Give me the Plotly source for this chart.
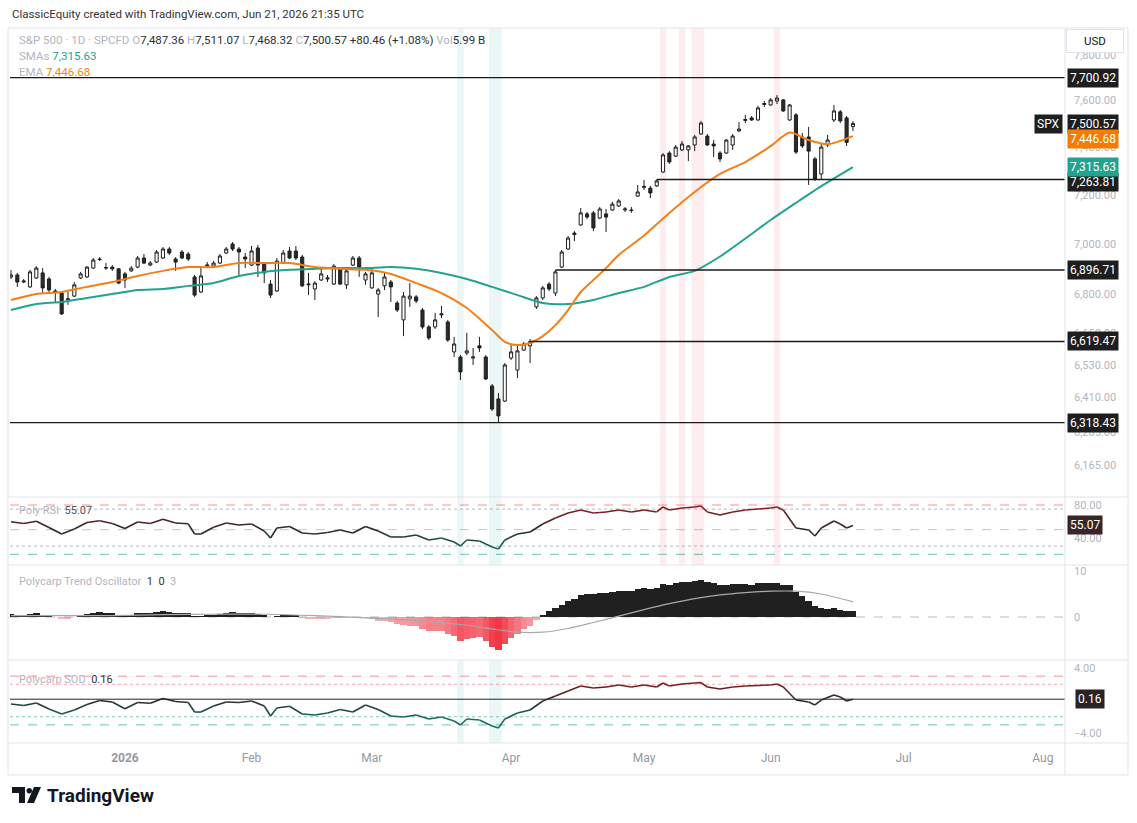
import math
import plotly.graph_objects as go

W, H = 1137, 823
FONT = "Roboto"

# ---------------- data ----------------
bar_idx = list(range(134))

opens = [6869, 6877, 6849, 6830, 6865, 6885, 6861, 6814, 6806, 6779,
         6794, 6865, 6869, 6904, 6940, 6904, 6908, 6901, 6881, 6893,
         6908, 6944, 6916, 6928, 6944, 6980, 6940, 6968, 6960, 6869,
         6810, 6912, 6912, 6924, 6964, 7000, 6980, 6948, 6916, 6984,
         6924, 6841, 6814, 6924, 6972, 6972, 6948, 6838, 6822, 6857,
         6861, 6841, 6901, 6838, 6916, 6944, 6857, 6826, 6802, 6834,
         6849, 6767, 6702, 6783, 6791, 6740, 6675, 6675, 6721, 6694,
         6580, 6561, 6576, 6557, 6603, 6561, 6453, 6405, 6397, 6557,
         6512, 6587, 6603, 6752, 6787, 6841, 6806, 6908, 6980, 7038,
         7077, 7122, 7126, 7105, 7122, 7138, 7154, 7138, 7138, 7195,
         7231, 7228, 7237, 7295, 7375, 7362, 7388, 7388, 7409, 7456,
         7447, 7413, 7375, 7375, 7409, 7469, 7514, 7525, 7516, 7583,
         7581, 7598, 7603, 7516, 7538, 7443, 7443, 7350, 7287, 7409,
         7516, 7551, 7525, 7487.36]
highs = [6897, 6885, 6861, 6897, 6912, 6904, 6869, 6822, 6814, 6810,
         6849, 6889, 6912, 6944, 6948, 6924, 6916, 6904, 6889, 6912,
         6952, 6960, 6932, 6976, 6988, 6988, 6948, 6976, 6968, 6877,
         6908, 6928, 6932, 6960, 6988, 7008, 6988, 6964, 6992, 6996,
         6928, 6857, 6944, 6976, 6988, 6992, 6956, 6885, 6853, 6908,
         6877, 6920, 6908, 6897, 6952, 6952, 6889, 6901, 6826, 6885,
         6857, 6775, 6810, 6845, 6798, 6748, 6682, 6729, 6756, 6702,
         6637, 6568, 6652, 6595, 6637, 6568, 6460, 6427, 6538, 6606,
         6606, 6618, 6629, 6794, 6834, 6849, 6896.71, 6976, 7032, 7052,
         7146, 7130, 7134, 7150, 7142, 7171, 7183, 7150, 7150, 7241,
         7262, 7237, 7263.81, 7375, 7383, 7409, 7426, 7409, 7452, 7512,
         7456, 7430, 7383, 7434, 7456, 7507, 7538, 7533, 7577, 7598,
         7611, 7624, 7607, 7585, 7546, 7460, 7486, 7358, 7413, 7452,
         7581, 7559, 7533, 7511.07]
lows = [6861, 6830, 6845, 6826, 6861, 6806, 6806, 6767, 6721, 6760,
        6791, 6861, 6865, 6901, 6932, 6897, 6893, 6841, 6826, 6889,
        6904, 6920, 6912, 6924, 6940, 6956, 6893, 6940, 6932, 6791,
        6806, 6904, 6908, 6920, 6960, 6972, 6877, 6904, 6912, 6869,
        6845, 6787, 6810, 6920, 6940, 6936, 6830, 6798, 6779, 6853,
        6849, 6838, 6838, 6822, 6912, 6869, 6838, 6822, 6713, 6818,
        6771, 6732, 6640, 6752, 6767, 6667, 6625, 6667, 6709, 6618,
        6561, 6475, 6568, 6531, 6580, 6475, 6361, 6318.43, 6394, 6550,
        6482, 6584, 6538, 6744, 6779, 6814, 6794, 6904, 6976, 7012,
        7073, 7101, 7052, 7101, 7048, 7134, 7150, 7130, 7126, 7191,
        7220, 7187, 7233, 7291, 7329, 7358, 7383, 7341, 7383, 7452,
        7405, 7358, 7337, 7371, 7388, 7464, 7503, 7512, 7512, 7572,
        7577, 7585, 7551, 7512, 7371, 7396, 7241, 7258, 7266, 7400,
        7507, 7503, 7405, 7468.32]
closes = [6877, 6849, 6853, 6889, 6904, 6826, 6818, 6810, 6725, 6783,
          6838, 6881, 6908, 6936, 6938, 6906, 6901, 6845, 6857, 6904,
          6944, 6924, 6924, 6968, 6980, 6964, 6928, 6944, 6940, 6798,
          6873, 6916, 6924, 6952, 6980, 6980, 6968, 6940, 6972, 6916,
          6885, 6798, 6932, 6964, 6944, 6944, 6834, 6841, 6845, 6881,
          6865, 6912, 6841, 6893, 6944, 6908, 6881, 6885, 6818, 6869,
          6830, 6740, 6794, 6794, 6775, 6675, 6633, 6702, 6725, 6625,
          6610, 6505, 6584, 6561, 6595, 6479, 6368, 6343, 6531, 6580,
          6584, 6610, 6619.47, 6787, 6826, 6822, 6889, 6968, 7024, 7044,
          7126, 7109, 7065, 7142, 7109, 7162, 7175, 7142, 7136, 7212,
          7235, 7208, 7258, 7367, 7337, 7400, 7413, 7405, 7443, 7503,
          7409, 7405, 7350, 7430, 7447, 7477, 7518, 7516, 7568, 7587,
          7603, 7611, 7555, 7581, 7379, 7405, 7383, 7266, 7400, 7430,
          7555, 7512, 7420.11, 7500.57]

ema_bars = [0, 4, 8, 12, 16, 20, 24, 28, 32, 36, 40, 44, 48, 52, 56, 60, 64, 68, 72, 76,
            78, 80, 82, 84, 86, 88, 90, 92, 94, 96, 100, 104, 108, 112, 116, 120, 123, 126, 129, 133]
ema_vals = [6779, 6802, 6810, 6830, 6849, 6873, 6893, 6908, 6908, 6924, 6924, 6924, 6908, 6901,
            6897, 6881, 6845, 6806, 6748, 6663, 6618, 6606, 6614, 6640, 6682, 6740, 6810, 6857,
            6904, 6956, 7034, 7126, 7212, 7287, 7337, 7404, 7462, 7430, 7412, 7446.68]

sma_bars = [0, 4, 8, 12, 16, 20, 24, 28, 32, 36, 40, 44, 48, 52, 56, 60, 64, 68, 72, 76,
            80, 84, 88, 92, 96, 100, 104, 108, 112, 116, 120, 124, 128, 133]
sma_vals = [6740, 6763, 6771, 6787, 6802, 6818, 6822, 6834, 6845, 6873, 6889, 6897, 6901, 6904,
            6904, 6908, 6901, 6885, 6861, 6830, 6798, 6767, 6763, 6779, 6806, 6830, 6869, 6893,
            6950, 7022, 7097, 7167, 7236, 7315.63]

levels = [7700.92, 7263.81, 6896.71, 6619.47, 6318.43]
level_start_bar = [None, 102, 86, 82, None]

oversold_bars = [71, 76, 77]
overbought_bars = [103, 106, 108, 109, 121]

osc_bars = [0, 2, 4, 6, 8, 10, 12, 14, 16, 18, 20, 22, 24, 26, 28, 29, 30, 32, 34, 36,
            38, 40, 41, 42, 44, 46, 48, 50, 52, 54, 56, 58, 60, 62, 64, 66, 68, 70, 71, 72,
            74, 76, 77, 78, 80, 82, 84, 86, 88, 90, 92, 94, 96, 98, 100, 102, 103, 104, 106, 108,
            109, 110, 112, 114, 116, 118, 120, 121, 122, 124, 126, 127, 128, 130, 131, 132, 133]
rsi_vals = [59.7, 57.5, 60.2, 52.6, 44.7, 50.8, 58.7, 60.9, 57.5, 51.4,
            59.3, 57.5, 62.6, 58.1, 57.1, 44.7, 44.7, 52.9, 58.1, 55.7,
            56.9, 48.4, 39.8, 52.0, 53.8, 45.9, 44.7, 46.5, 49.6, 45.9,
            53.8, 48.4, 41.1, 41.1, 43.5, 37.4, 39.8, 35.0, 30.1, 37.4,
            36.2, 28.9, 26.5, 37.4, 44.7, 47.1, 56.9, 64.2, 70.3, 73.9,
            70.3, 71.5, 73.9, 71.5, 73.9, 71.5, 77.6, 73.9, 76.3, 77.6,
            78.8, 71.5, 67.8, 71.5, 73.9, 75.1, 76.3, 77.6, 73.9, 52.0,
            49.6, 42.3, 52.0, 60.5, 56.9, 52.0, 55.07]
sod_vals = [-0.43, -0.62, -0.31, -1.05, -1.66, -1.17, -0.49, 0.0, -0.18, -1.01,
            -0.25, -0.34, 0.25, -0.12, -0.25, -1.42, -1.42, -0.68, -0.18, -0.25,
            -0.06, -0.68, -1.91, -0.92, -0.71, -1.66, -1.78, -1.54, -1.11, -1.42,
            -0.55, -1.11, -1.91, -2.03, -1.78, -2.28, -2.03, -2.52, -3.02, -2.28,
            -2.40, -3.14, -3.38, -2.28, -1.54, -1.17, -0.06, 0.55, 1.17, 1.78,
            1.54, 1.66, 1.91, 1.66, 1.91, 1.66, 2.15, 1.78, 2.03, 2.15,
            2.20, 1.66, 1.42, 1.66, 1.78, 1.85, 1.91, 2.03, 1.66, 0.06,
            -0.18, -0.55, 0.06, 0.68, 0.43, -0.06, 0.16]

trend_vals = [0.6, 0.5, 0.4, 0.6, 0.8, 0.5, 0.2, -0.1, -0.5, -0.4,
              -0.1, 0.3, 0.6, 0.9, 1.0, 0.9, 0.8, 0.5, 0.4, 0.5,
              0.8, 0.9, 0.9, 1.1, 1.2, 1.1, 0.9, 0.9, 0.8, 0.2,
              0.2, 0.4, 0.5, 0.7, 0.9, 1.0, 0.9, 0.8, 0.9, 0.7,
              0.4, -0.1, 0.2, 0.4, 0.4, 0.3, -0.2, -0.4, -0.5, -0.4,
              -0.4, -0.2, -0.3, -0.3, 0.0, -0.1, -0.3, -0.4, -0.8, -0.8,
              -1.1, -1.6, -1.7, -1.9, -2.0, -2.6, -3.1, -3.0, -3.0, -3.6,
              -4.2, -5.3, -4.8, -4.6, -4.3, -5.2, -6.5, -7.1, -5.8, -4.5,
              -3.6, -2.6, -1.9, -0.6, 0.4, 1.2, 1.9, 2.7, 3.4, 4.0,
              4.7, 5.0, 4.9, 5.2, 5.2, 5.5, 5.7, 5.6, 5.6, 6.0,
              6.2, 6.1, 6.4, 7.1, 7.0, 7.4, 7.6, 7.6, 7.8, 8.1,
              7.6, 7.3, 6.9, 7.0, 7.1, 7.2, 7.2, 7.0, 7.3, 7.3,
              7.4, 7.4, 6.9, 6.9, 5.5, 4.5, 3.5, 2.4, 2.0, 1.8,
              1.9, 1.6, 1.3, 1.2]
sig_bars = [0, 8, 16, 24, 32, 40, 48, 56, 64, 72, 76, 80, 84, 88, 92, 96, 100, 104,
            108, 112, 116, 120, 124, 128, 133]
sig_vals = [0.3, 0.3, 0.3, 0.5, 0.6, 0.6, 0.3, -0.2, -0.8, -1.8, -2.6, -3.3, -3.3, -2.5,
            -1.2, 0.2, 1.6, 2.9, 4.0, 4.8, 5.3, 5.6, 5.6, 5.0, 3.3]

x_tick_bars = [18, 38, 57, 79, 100, 120, 141, 163]
x_tick_labels = ["<b>2026</b>", "Feb", "Mar", "Apr", "May", "Jun", "Jul", "Aug"]
price_ticks = [7800, 7600, 7400, 7200, 7000, 6800, 6650, 6530, 6410, 6285, 6165]
rsi_ticks = [80, 40]
trend_ticks = [10, 0]
sod_ticks = [4, -4]
rsi_levels = [80, 75, 50, 30, 20]
sod_levels = [3, 2, -2, -3]

last_close = closes[-1]
last_sma = sma_vals[-1]
last_ema = ema_vals[-1]
last_rsi = rsi_vals[-1]
last_sod = sod_vals[-1]

# ---------------- layout geometry ----------------
X_L, X_R = 10, 1065
X_MIN, X_MAX = -0.16, 166.5
P_TOP, P_BOT = 28, 497
R_TOP, R_BOT = 497, 565
T_TOP, T_BOT = 565, 660
S_TOP, S_BOT = 660, 743
AX_BOT = 775
P_MIN, P_MAX = 6054.8, 7923.0
RSI_RANGE = [6.98, 89.74]
TREND_RANGE = [-9.35, 11.3]
SOD_RANGE = [-5.23, 4.985]


def px(x):
    return x / W


def py(y):
    return 1 - y / H


def dom(top, bot):
    return [py(bot), py(top)]


def mix(c1, c2, t):
    return tuple(round(a + (b - a) * t) for a, b in zip(c1, c2))


TEAL_D = (25, 112, 96)
DARK = (42, 42, 42)
MAROON = (135, 28, 32)


def grad_color(t):
    t = max(-1.0, min(1.0, t))
    c = mix(DARK, TEAL_D, -t) if t < 0 else mix(DARK, MAROON, t)
    return "rgb(%d,%d,%d)" % c


fig = go.Figure()

# ---------------- price pane ----------------
fig.add_trace(go.Candlestick(
    x=bar_idx, open=opens, high=highs, low=lows, close=closes,
    increasing=dict(line=dict(color="#1E1E1E", width=1), fillcolor="#FFFFFF"),
    decreasing=dict(line=dict(color="#1E1E1E", width=1), fillcolor="#2B2B2B"),
    xaxis="x", yaxis="y", hoverinfo="skip", showlegend=False))

fig.add_trace(go.Scatter(x=sma_bars, y=sma_vals, mode="lines",
                         line=dict(color="#22A38F", width=2, shape="spline", smoothing=0.7),
                         xaxis="x", yaxis="y", hoverinfo="skip", showlegend=False))
fig.add_trace(go.Scatter(x=ema_bars, y=ema_vals, mode="lines",
                         line=dict(color="#F57F17", width=2, shape="spline", smoothing=0.7),
                         xaxis="x", yaxis="y", hoverinfo="skip", showlegend=False))

for lv, sb in zip(levels, level_start_bar):
    x0 = X_MIN if sb is None else sb
    fig.add_trace(go.Scatter(x=[x0, X_MAX], y=[lv, lv], mode="lines",
                             line=dict(color="#1A1A1A", width=1.4),
                             xaxis="x", yaxis="y", hoverinfo="skip", showlegend=False))


# ---------------- gradient oscillator lines ----------------
def add_grad_line(xs, vs, tfun, xa, ya, nb=16):
    buckets = {}
    for i in range(len(xs) - 1):
        t = tfun((vs[i] + vs[i + 1]) / 2)
        k = round(max(-1, min(1, t)) * nb / 2)
        buckets.setdefault(k, ([], []))
        bx, by = buckets[k]
        bx += [xs[i], xs[i + 1], None]
        by += [vs[i], vs[i + 1], None]
    for k, (bx, by) in sorted(buckets.items()):
        fig.add_trace(go.Scatter(x=bx, y=by, mode="lines",
                                 line=dict(color=grad_color(k / (nb / 2)), width=1.6),
                                 xaxis=xa, yaxis=ya, hoverinfo="skip", showlegend=False,
                                 connectgaps=False))


add_grad_line(osc_bars, rsi_vals, lambda v: (v - 50) / 25.0, "x2", "y2")
add_grad_line(osc_bars, sod_vals, lambda v: v / 2.4, "x4", "y4")

# ---------------- trend oscillator ----------------
trend_colors = []
for v in trend_vals:
    if v >= 0:
        trend_colors.append("#202020")
    else:
        a = 0.35 + 0.65 * min(1.0, -v / 7.0)
        trend_colors.append("rgba(242,54,69,%.2f)" % a)
fig.add_trace(go.Bar(x=bar_idx, y=trend_vals, marker=dict(color=trend_colors, line=dict(width=0)),
                     width=1.0, xaxis="x3", yaxis="y3", hoverinfo="skip", showlegend=False))
fig.add_trace(go.Scatter(x=sig_bars, y=sig_vals, mode="lines",
                         line=dict(color="#A8A8A8", width=1.2, shape="spline", smoothing=0.8),
                         xaxis="x3", yaxis="y3", hoverinfo="skip", showlegend=False))

# ---------------- shapes ----------------
shapes = []
for b in oversold_bars:
    shapes.append(dict(type="rect", xref="x", yref="paper", x0=b - 0.5, x1=b + 0.5,
                       y0=py(R_BOT), y1=py(P_TOP), fillcolor="rgba(0,150,136,0.08)",
                       line=dict(width=0), layer="below"))
    shapes.append(dict(type="rect", xref="x", yref="paper", x0=b - 0.5, x1=b + 0.5,
                       y0=py(S_BOT), y1=py(S_TOP), fillcolor="rgba(0,150,136,0.08)",
                       line=dict(width=0), layer="below"))
for b in overbought_bars:
    shapes.append(dict(type="rect", xref="x", yref="paper", x0=b - 0.5, x1=b + 0.5,
                       y0=py(R_BOT), y1=py(P_TOP), fillcolor="rgba(242,54,69,0.09)",
                       line=dict(width=0), layer="below"))

rsi_styles = {80: ("rgba(242,54,69,0.55)", "dash"), 75: ("rgba(120,123,134,0.55)", "dot"),
              50: ("rgba(120,123,134,0.45)", "dash"), 30: ("rgba(120,123,134,0.55)", "dot"),
              20: ("rgba(8,153,129,0.6)", "dash")}
for lv in rsi_levels:
    c, d = rsi_styles[lv]
    shapes.append(dict(type="line", xref="paper", yref="y2", x0=px(X_L), x1=px(X_R), y0=lv, y1=lv,
                       line=dict(color=c, width=1, dash=d), layer="below"))
shapes.append(dict(type="line", xref="paper", yref="y3", x0=px(X_L), x1=px(X_R), y0=0, y1=0,
                   line=dict(color="rgba(120,123,134,0.5)", width=1, dash="dash"), layer="below"))
sod_styles = {3: ("rgba(242,54,69,0.55)", "dash"), 2: ("rgba(242,54,69,0.45)", "dot"),
              -2: ("rgba(8,153,129,0.55)", "dot"), -3: ("rgba(8,153,129,0.6)", "dash")}
for lv in sod_levels:
    c, d = sod_styles[lv]
    shapes.append(dict(type="line", xref="paper", yref="y4", x0=px(X_L), x1=px(X_R), y0=lv, y1=lv,
                       line=dict(color=c, width=1, dash=d), layer="below"))
shapes.append(dict(type="line", xref="paper", yref="y4", x0=px(X_L), x1=px(X_R), y0=last_sod,
                   y1=last_sod, line=dict(color="#222222", width=1), layer="below"))

GRID = "#E0E3EB"
for yy in (R_TOP, T_TOP, S_TOP, S_BOT):
    shapes.append(dict(type="line", xref="paper", yref="paper", x0=px(8), x1=px(1128),
                       y0=py(yy), y1=py(yy), line=dict(color=GRID, width=1)))
shapes.append(dict(type="line", xref="paper", yref="paper", x0=px(X_R), x1=px(X_R),
                   y0=py(AX_BOT), y1=py(P_TOP), line=dict(color=GRID, width=1)))
shapes.append(dict(type="rect", xref="paper", yref="paper", x0=px(8), x1=px(1128),
                   y0=py(AX_BOT), y1=py(P_TOP), line=dict(color=GRID, width=1)))


# TradingView logo glyph
def path(pts):
    return "M " + " L ".join("%.5f,%.5f" % (px(a), py(b)) for a, b in pts) + " Z"


shapes.append(dict(type="path", xref="paper", yref="paper",
                   path=path([(12, 787), (25, 787), (25, 803), (19, 803), (19, 793), (12, 793)]),
                   fillcolor="#131722", line=dict(width=0)))
shapes.append(dict(type="circle", xref="paper", yref="paper", x0=px(26.5), x1=px(32),
                   y0=py(793.5), y1=py(788), fillcolor="#131722", line=dict(width=0)))
shapes.append(dict(type="path", xref="paper", yref="paper",
                   path=path([(34, 787), (41, 787), (34, 803), (27, 803)]),
                   fillcolor="#131722", line=dict(width=0)))

# ---------------- annotations ----------------
ann = []
GRAY = "#B2B5BE"
DK = "#131722"


def txt(x, y, text, size=12, color=DK, xanchor="left", **kw):
    ann.append(dict(x=px(x), y=py(y), xref="paper", yref="paper", text=text, showarrow=False,
                    xanchor=xanchor, yanchor="middle", font=dict(family=FONT, size=size, color=color),
                    **kw))


txt(10, 14, "ClassicEquity created with TradingView.com, Jun 21, 2026 21:35 UTC", size=11.5, color="#333333")


def g(s):
    return "<span style='color:%s'>%s</span>" % (GRAY, s)


legend1 = (g("S&amp;P 500 · 1D · SPCFD") + " " + g("O") + "%s " % f"{opens[-1]:,.2f}" + g("H") +
           "%s " % f"{highs[-1]:,.2f}" + g("L") + "%s " % f"{lows[-1]:,.2f}" + g("C") +
           "%s " % f"{closes[-1]:,.2f}" +
           "%+.2f (%+.2f%%) " % (closes[-1] - closes[-2], (closes[-1] / closes[-2] - 1) * 100) +
           g("Vol") + "5.99 B")
txt(17, 40, legend1, size=11.5, color="#2A2E39")
txt(17, 56, g("SMAs") + " <span style='color:#22A38F'>%s</span>" % f"{last_sma:,.2f}", size=11.5)
txt(17, 72, g("EMA") + " <span style='color:#F57F17'>%s</span>" % f"{last_ema:,.2f}", size=11.5)

txt(17, 510, g("Poly RSI") + "  <span style='color:#555'>%.2f</span>" % last_rsi, size=11)
txt(17, 581, g("Polycarp Trend Oscillator") +
    "  <span style='color:#333'>1</span>  <span style='color:#333'>0</span>  " + g("3"), size=11)
txt(17, 679, g("Polycarp SOD") + "  <span style='color:#333'>%.2f</span>" % last_sod, size=11)


def price_box(value, bg, yshift=0, text=None):
    ann.append(dict(x=px(1067), y=math.log10(value), xref="paper", yref="y",
                    text=text or f"{value:,.2f}", showarrow=False, xanchor="left", yanchor="middle",
                    yshift=yshift, bgcolor=bg, borderpad=2,
                    font=dict(family=FONT, size=12, color="#FFFFFF")))


for lv in levels:
    price_box(lv, "#1E1E1E", yshift=(-3 if lv == levels[1] else 0))
price_box(last_close, "#1E1E1E")
price_box(last_ema, "#F57C00", yshift=-3)
price_box(last_sma, "#22A38F")
ann.append(dict(x=px(1063), y=math.log10(last_close), xref="paper", yref="y", text="SPX",
                showarrow=False, xanchor="right", yanchor="middle", bgcolor="#1E1E1E", borderpad=2,
                font=dict(family=FONT, size=12, color="#FFFFFF")))
ann.append(dict(x=px(1067), y=last_rsi, xref="paper", yref="y2", text="%.2f" % last_rsi,
                showarrow=False, xanchor="left", yanchor="middle", bgcolor="#3A2526", borderpad=2,
                font=dict(family=FONT, size=12, color="#FFFFFF")))
ann.append(dict(x=px(1075), y=last_sod, xref="paper", yref="y4", text="%.2f" % last_sod,
                showarrow=False, xanchor="left", yanchor="middle", bgcolor="#2A2323", borderpad=2,
                font=dict(family=FONT, size=12, color="#FFFFFF")))
ann.append(dict(x=px(1095), y=py(41), xref="paper", yref="paper", text="USD", showarrow=False,
                xanchor="center", yanchor="middle", bgcolor="#FFFFFF", bordercolor="#E0E3EB",
                borderwidth=1, borderpad=4, width=48,
                font=dict(family=FONT, size=11.5, color=DK)))
txt(45, 795, "<b>TradingView</b>", size=19, color=DK)

# ---------------- axes ----------------
common_x = dict(range=[X_MIN, X_MAX], domain=[px(X_L), px(X_R)], showgrid=False, zeroline=False,
                showline=False, ticks="", fixedrange=True)
yfont = dict(family=FONT, size=11, color=GRAY)
common_y = dict(side="right", showgrid=False, zeroline=False, showline=False, ticks="",
                tickfont=yfont, fixedrange=True, ticklabelstandoff=8)

fig.update_layout(
    width=W, height=H, margin=dict(l=0, r=0, t=0, b=0),
    paper_bgcolor="#FFFFFF", plot_bgcolor="rgba(0,0,0,0)",
    showlegend=False, bargap=0, hovermode=False,
    font=dict(family=FONT),
    xaxis=dict(common_x, anchor="y", showticklabels=False, rangeslider=dict(visible=False)),
    xaxis2=dict(common_x, anchor="y2", showticklabels=False, matches="x"),
    xaxis3=dict(common_x, anchor="y3", showticklabels=False, matches="x"),
    xaxis4=dict(common_x, anchor="y4", showticklabels=True, matches="x",
                tickvals=x_tick_bars, ticktext=x_tick_labels, ticklabelstandoff=6,
                tickfont=dict(family=FONT, size=12, color="#9598A1")),
    yaxis=dict(common_y, anchor="x", type="log", domain=dom(P_TOP, P_BOT),
               range=[math.log10(P_MIN), math.log10(P_MAX)],
               tickvals=price_ticks, ticktext=[f"{v:,.2f}" for v in price_ticks]),
    yaxis2=dict(common_y, anchor="x2", domain=dom(R_TOP, R_BOT), range=RSI_RANGE,
                tickvals=rsi_ticks, ticktext=["%.2f" % v for v in rsi_ticks]),
    yaxis3=dict(common_y, anchor="x3", domain=dom(T_TOP, T_BOT), range=TREND_RANGE,
                tickvals=trend_ticks, ticktext=["%d" % v for v in trend_ticks]),
    yaxis4=dict(common_y, anchor="x4", domain=dom(S_TOP, S_BOT), range=SOD_RANGE,
                tickvals=sod_ticks, ticktext=["%.2f" % v if v >= 0 else "\u2212%.2f" % -v for v in sod_ticks]),
    shapes=shapes, annotations=ann,
)

fig.write_html("out.html")
